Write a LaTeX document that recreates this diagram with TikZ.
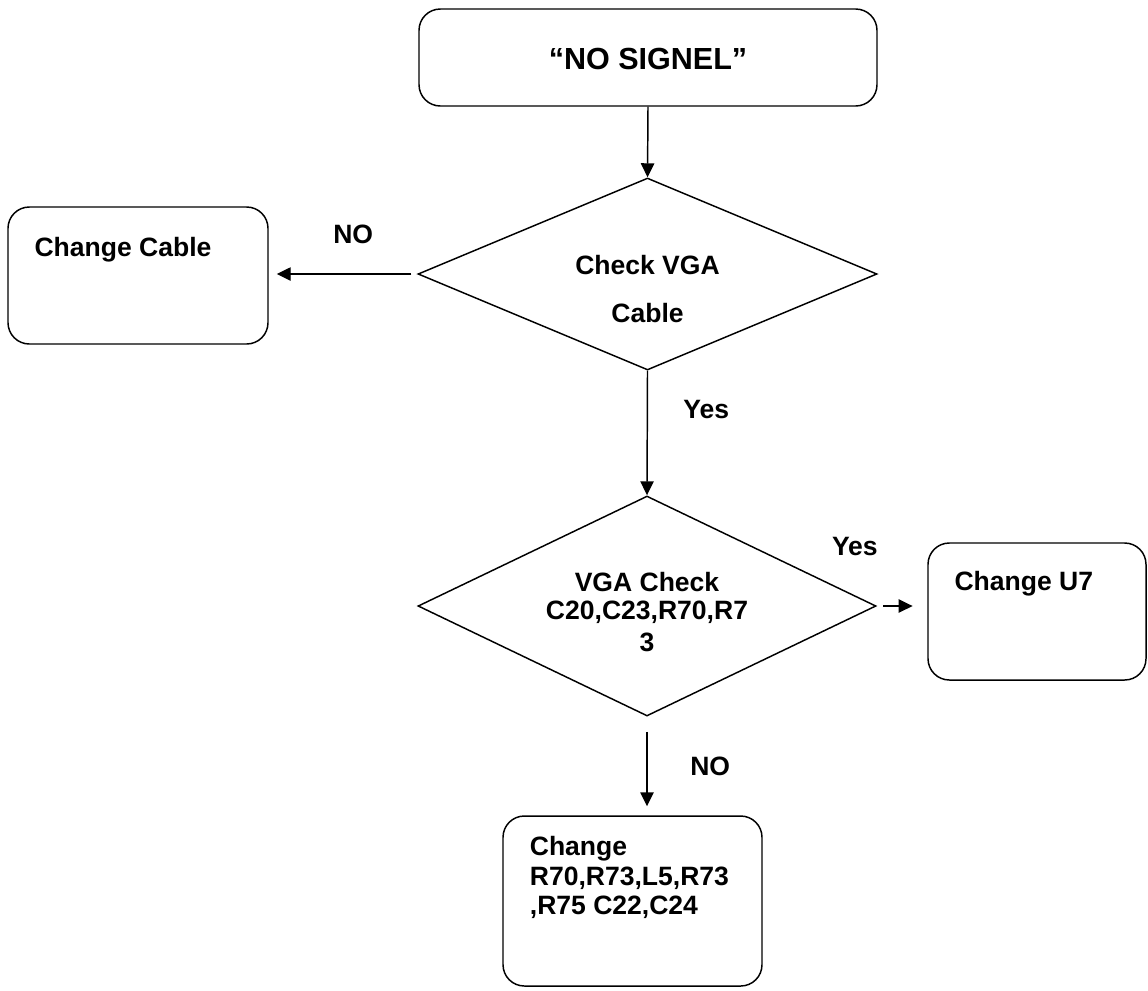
\documentclass[tikz,border=0pt]{standalone}
\usepackage{fontspec}
\setmainfont{Liberation Sans}
\usetikzlibrary{shapes.geometric,arrows.meta}
\tikzset{
  px/.style={x=0.75pt,y=-0.75pt},
  rbox/.style={draw,line width=1.1pt,rounded corners=16pt,inner sep=0pt},
  dia/.style={draw,line width=1.1pt,diamond,inner sep=0pt},
  txt/.style={font=\fontsize{19.9}{23}\selectfont\bfseries,inner sep=0pt},
  ttl/.style={font=\fontsize{22.9}{27}\selectfont\bfseries,inner sep=0pt},
  arr/.style={line width=1.1pt,-{Triangle[length=10.5pt,width=10pt]}},
}
\begin{document}
\begin{tikzpicture}[px]
\useasboundingbox (0,0) rectangle (1148,990);
% top box
\node[rbox,minimum width=343.5pt,minimum height=72.75pt,
  label={[ttl,anchor=base,yshift=-1.1pt]center:“NO SIGNEL”}] (start) at (648,57.5) {};
% diamond 1
\node[dia,minimum width=344.25pt,minimum height=144pt,
  label={[txt,anchor=base,yshift=6.75pt]center:Check VGA},
  label={[txt,anchor=base,yshift=-29.25pt]center:Cable}] (d1) at (647.5,274) {};
% change cable
\node[rbox,minimum width=195pt,minimum height=102.75pt,
  label={[txt,anchor=base west,xshift=20.25pt,yshift=-37.5pt]north west:Change Cable}] (cable) at (138,275.5) {};
% diamond 2
\node[dia,minimum width=343.5pt,minimum height=165pt,
  label={[txt,anchor=base,yshift=18pt]center:VGA Check},
  label={[txt,anchor=base,yshift=-4.5pt]center:C20,C23,R70,R7},
  label={[txt,anchor=base,yshift=-27pt]center:3}] (d2) at (647,606) {};
% change U7
\node[rbox,minimum width=163.5pt,minimum height=102.75pt,
  label={[txt,anchor=base west,xshift=20.25pt,yshift=-36pt]north west:Change U7}] (u7) at (1037,611.5) {};
% bottom box
\node[rbox,minimum width=194.25pt,minimum height=127.5pt,
  label={[txt,anchor=base west,xshift=20.5pt,yshift=-30pt]north west:Change},
  label={[txt,anchor=base west,xshift=20.5pt,yshift=-52.5pt]north west:{R70,R73,L5,R73}},
  label={[txt,anchor=base west,xshift=20.5pt,yshift=-74.5pt]north west:{,R75 C22,C24}}] (fix) at (632.5,901) {};
% connectors
\draw[arr] (start.south) -- (d1.north);
\draw[arr,shorten <=4.5pt,shorten >=6pt] (d1.west) -- (d1.west -| cable.east);
\draw[arr] (d1.south) -- (d2.north);
\draw[arr,shorten <=5pt,shorten >=11pt] (d2.east) -- (d2.east -| u7.west);
\draw[arr,shorten <=11.25pt,shorten >=6.75pt] (d2.south) -- (d2.south |- fix.north);
% edge labels
\node[txt,anchor=base west] (lno1) at (333,243) {NO};
\node[txt,anchor=base west] (lyes1) at (683,418) {Yes};
\node[txt,anchor=base east] (lyes2) at (878,555) {Yes};
\node[txt,anchor=base west] (lno2) at (690,775) {NO};
\end{tikzpicture}
\end{document}
